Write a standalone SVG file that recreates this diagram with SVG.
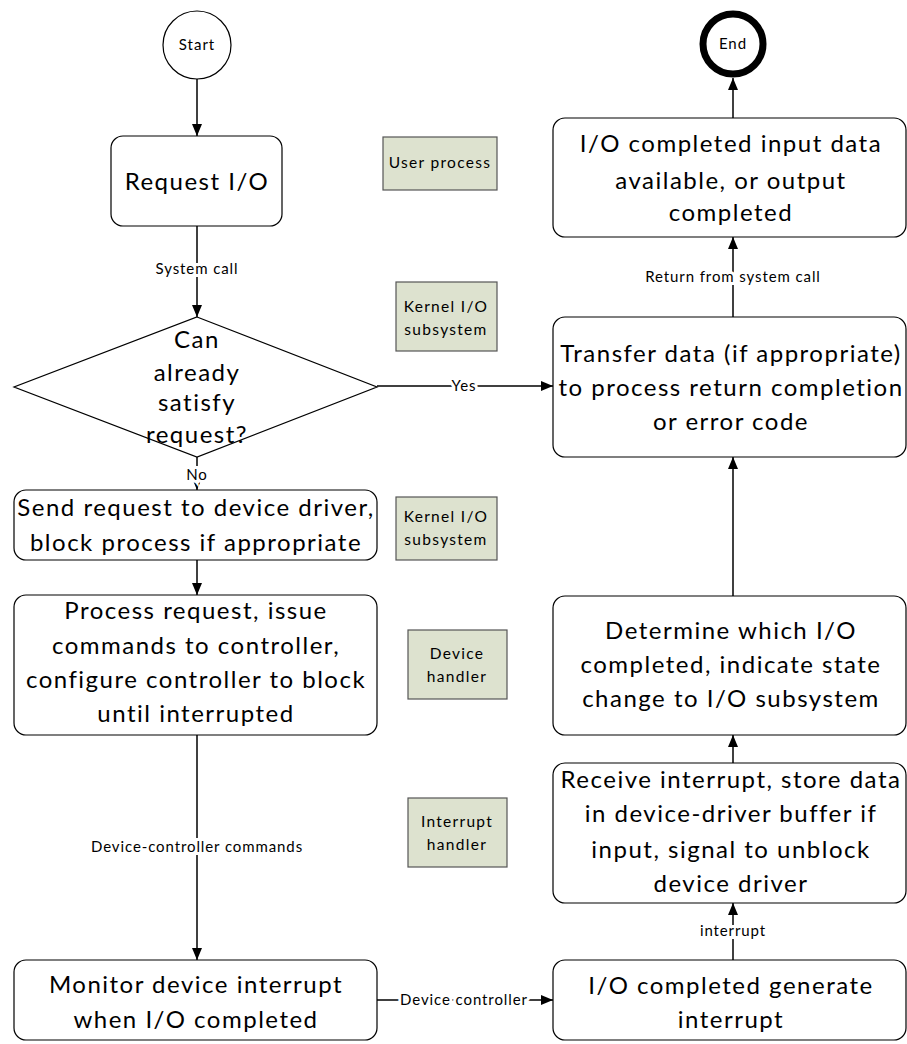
<svg xmlns="http://www.w3.org/2000/svg" width="907" height="1044" viewBox="0 0 907 1044">
  <style>
    .box { fill: #ffffff; stroke: #000000; stroke-width: 1.2; }
    .tag { fill: #dde2cf; stroke: #555555; stroke-width: 1.2; }
    .main { font-family: Lato, "Open Sans", "Liberation Sans", sans-serif; font-size: 24px; letter-spacing: 1.5px; fill: #000000; text-anchor: middle; }
    .small { font-family: Lato, "Open Sans", "Liberation Sans", sans-serif; font-size: 15px; letter-spacing: 1px; fill: #000000; text-anchor: middle; }
    .tagtxt { font-family: Lato, "Open Sans", "Liberation Sans", sans-serif; font-size: 15.5px; letter-spacing: 1.3px; fill: #000000; text-anchor: middle; }
    .lbl { font-family: Lato, "Open Sans", "Liberation Sans", sans-serif; font-size: 15px; letter-spacing: 0.9px; fill: #000000; text-anchor: middle; stroke: #ffffff; stroke-width: 6px; paint-order: stroke; }
    .edge { fill: none; stroke: #000000; stroke-width: 1.5; }
  </style>
  <defs>
    <marker id="arrow" viewBox="0 0 12 12" refX="12" refY="6" markerWidth="12" markerHeight="12" markerUnits="userSpaceOnUse" orient="auto">
      <path d="M0,1 L12,6 L0,11 Z" fill="#000000"/>
    </marker>
  </defs>
  <rect width="907" height="1044" fill="#ffffff"/>

  <!-- connectors -->
  <g id="connectors">
    <line class="edge" x1="197" y1="79" x2="197" y2="136" marker-end="url(#arrow)"/>
    <line class="edge" x1="197" y1="226" x2="197" y2="317" marker-end="url(#arrow)"/>
    <line class="edge" x1="377" y1="386" x2="553" y2="386" marker-end="url(#arrow)"/>
    <line class="edge" x1="197" y1="457" x2="197" y2="490" marker-end="url(#arrow)"/>
    <line class="edge" x1="197" y1="560" x2="197" y2="595" marker-end="url(#arrow)"/>
    <line class="edge" x1="197" y1="735" x2="197" y2="960" marker-end="url(#arrow)"/>
    <line class="edge" x1="377" y1="1000" x2="553" y2="1000" marker-end="url(#arrow)"/>
    <line class="edge" x1="733" y1="960" x2="733" y2="903" marker-end="url(#arrow)"/>
    <line class="edge" x1="733" y1="763" x2="733" y2="735" marker-end="url(#arrow)"/>
    <line class="edge" x1="733" y1="596" x2="733" y2="457" marker-end="url(#arrow)"/>
    <line class="edge" x1="733" y1="317" x2="733" y2="237" marker-end="url(#arrow)"/>
    <line class="edge" x1="733" y1="118" x2="733" y2="78" marker-end="url(#arrow)"/>
    <text class="lbl" x="197" y="274">System call</text>
    <text class="lbl" x="464" y="391">Yes</text>
    <text class="lbl" x="197" y="480">No</text>
    <text class="lbl" x="197" y="852">Device-controller commands</text>
    <text class="lbl" x="464" y="1005">Device controller</text>
    <text class="lbl" x="733" y="936">interrupt</text>
    <text class="lbl" x="733" y="282">Return from system call</text>
  </g>

  <!-- flow nodes -->
  <g id="start">
    <circle cx="197" cy="45" r="34" class="box"/>
    <text class="small" x="197" y="50">Start</text>
  </g>
  <g id="end">
    <circle cx="733" cy="44" r="30" fill="#ffffff" stroke="#000000" stroke-width="7"/>
    <text class="small" x="733" y="49">End</text>
  </g>
  <g id="request-io">
    <rect x="111" y="136" width="171" height="90" rx="12" class="box"/>
    <text class="main" x="197" y="190">Request I/O</text>
  </g>
  <g id="can-satisfy">
    <polygon points="197,317 377,387 197,457 14,387" class="box"/>
    <text class="main" x="197" y="348">Can</text>
    <text class="main" x="197" y="381">already</text>
    <text class="main" x="197" y="411">satisfy</text>
    <text class="main" x="197" y="443">request?</text>
  </g>
  <g id="send-request">
    <rect x="14" y="490" width="363" height="70" rx="12" class="box"/>
    <text class="main" x="196" y="516">Send request to device driver,</text>
    <text class="main" x="196" y="551">block process if appropriate</text>
  </g>
  <g id="process-request">
    <rect x="14" y="595" width="363" height="140" rx="12" class="box"/>
    <text class="main" x="196" y="619">Process request, issue</text>
    <text class="main" x="196" y="654">commands to controller,</text>
    <text class="main" x="196" y="688">configure controller to block</text>
    <text class="main" x="196" y="722">until interrupted</text>
  </g>
  <g id="monitor-interrupt">
    <rect x="14" y="960" width="363" height="80" rx="12" class="box"/>
    <text class="main" x="196" y="993">Monitor device interrupt</text>
    <text class="main" x="196" y="1028">when I/O completed</text>
  </g>
  <g id="io-completed">
    <rect x="553" y="118" width="353" height="119" rx="12" class="box"/>
    <text class="main" x="731" y="152">I/O completed input data</text>
    <text class="main" x="731" y="189">available, or output</text>
    <text class="main" x="731" y="221">completed</text>
  </g>
  <g id="transfer-data">
    <rect x="553" y="317" width="353" height="140" rx="12" class="box"/>
    <text class="main" x="731" y="362">Transfer data (if appropriate)</text>
    <text class="main" x="731" y="396">to process return completion</text>
    <text class="main" x="731" y="430">or error code</text>
  </g>
  <g id="determine-io">
    <rect x="553" y="596" width="353" height="139" rx="12" class="box"/>
    <text class="main" x="731" y="639">Determine which I/O</text>
    <text class="main" x="731" y="673">completed, indicate state</text>
    <text class="main" x="731" y="707">change to I/O subsystem</text>
  </g>
  <g id="receive-interrupt">
    <rect x="553" y="763" width="353" height="140" rx="12" class="box"/>
    <text class="main" x="731" y="788">Receive interrupt, store data</text>
    <text class="main" x="731" y="822">in device-driver buffer if</text>
    <text class="main" x="731" y="858">input, signal to unblock</text>
    <text class="main" x="731" y="892">device driver</text>
  </g>
  <g id="generate-interrupt">
    <rect x="553" y="960" width="353" height="80" rx="12" class="box"/>
    <text class="main" x="731" y="994">I/O completed generate</text>
    <text class="main" x="731" y="1028">interrupt</text>
  </g>

  <!-- layer tags -->
  <g id="tag-user-process">
    <rect x="383" y="137" width="114" height="53" class="tag"/>
    <text class="tagtxt" x="440" y="168">User process</text>
  </g>
  <g id="tag-kernel-1">
    <rect x="396" y="282" width="101" height="69" class="tag"/>
    <text class="tagtxt" x="446" y="312">Kernel I/O</text>
    <text class="tagtxt" x="446" y="335">subsystem</text>
  </g>
  <g id="tag-kernel-2">
    <rect x="396" y="497" width="101" height="63" class="tag"/>
    <text class="tagtxt" x="446" y="522">Kernel I/O</text>
    <text class="tagtxt" x="446" y="545">subsystem</text>
  </g>
  <g id="tag-device-handler">
    <rect x="408" y="630" width="99" height="69" class="tag"/>
    <text class="tagtxt" x="457" y="659">Device</text>
    <text class="tagtxt" x="457" y="682">handler</text>
  </g>
  <g id="tag-interrupt-handler">
    <rect x="408" y="798" width="99" height="69" class="tag"/>
    <text class="tagtxt" x="457" y="827">Interrupt</text>
    <text class="tagtxt" x="457" y="850">handler</text>
  </g>
</svg>
